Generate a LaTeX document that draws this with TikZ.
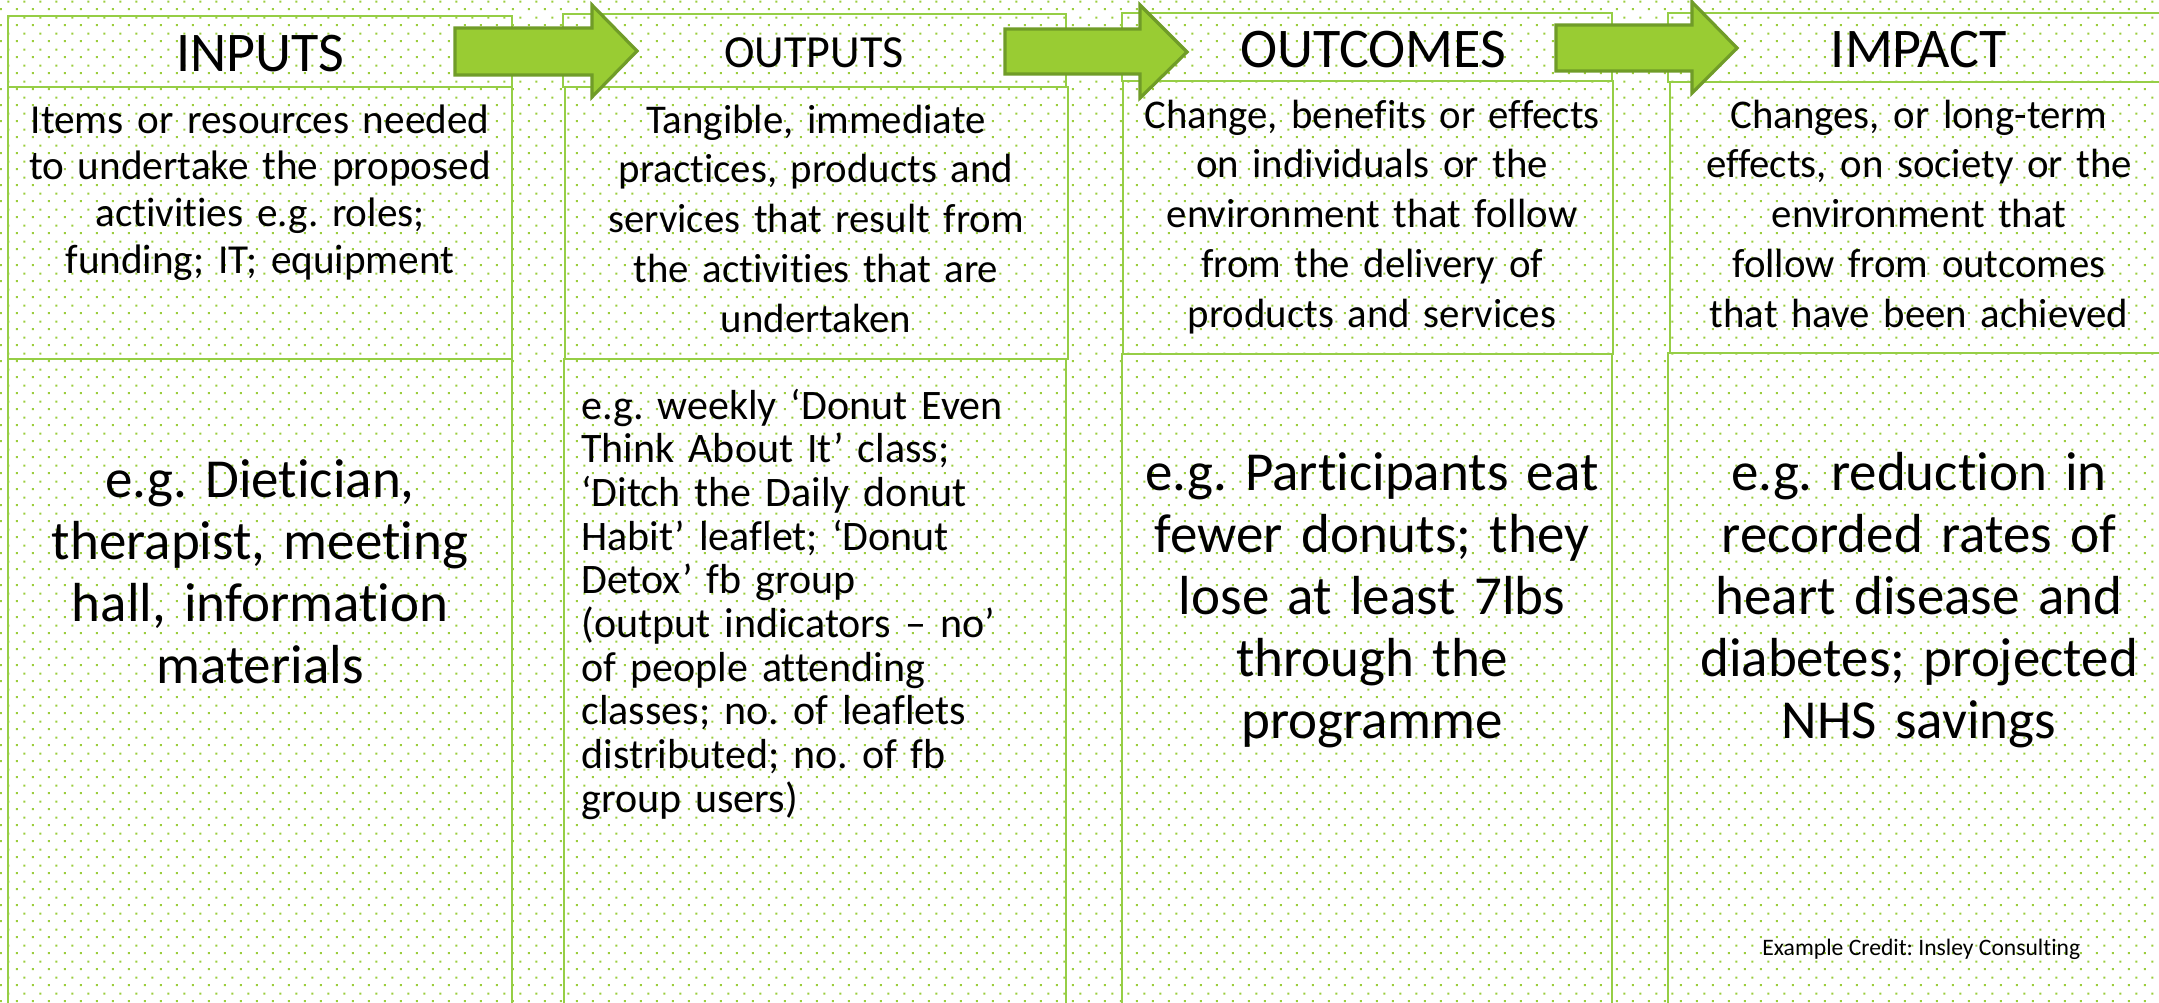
\documentclass[tikz,border=0pt]{standalone}
\usepackage{fontspec}
\setmainfont{Carlito}[Ligatures=NoCommon]
\usetikzlibrary{patterns}

\definecolor{gridgreen}{RGB}{155,205,60}
\definecolor{linegreen}{RGB}{150,206,70}
\definecolor{arrowfill}{RGB}{153,204,51}
\definecolor{arrowedge}{RGB}{112,156,40}

% staggered dot grid: 16px tile, dots at (0,0) and (8,8)
\pgfdeclarepatternformonly{greendots}{\pgfqpoint{0pt}{0pt}}{\pgfqpoint{8pt}{8pt}}{\pgfqpoint{8pt}{8pt}}{%
  \pgfpathrectangle{\pgfqpoint{0.5pt}{0.5pt}}{\pgfqpoint{1pt}{1pt}}%
  \pgfpathrectangle{\pgfqpoint{4.5pt}{4.5pt}}{\pgfqpoint{1pt}{1pt}}%
  \pgfusepath{fill}}

\newcommand{\fs}[2]{\fontsize{#1}{#2}\selectfont}

\tikzset{
  cell/.style={draw=linegreen, line width=1pt},
  blockarrow/.style={fill=arrowfill, draw=arrowedge, line width=1.6pt, line join=miter},
  headtxt/.style={anchor=base, inner sep=0pt, font=\fs{28}{33}},
  desctxt/.style={anchor=base, inner sep=0pt, text width=300pt, align=center, font=\fs{20.4}{24.9}},
  bigtxt/.style={anchor=base, inner sep=0pt, text width=300pt, align=center, font=\fs{27.5}{31}},
  listtxt/.style={anchor=base west, inner sep=0pt, text width=300pt, align=left, font=\fs{21}{21.85}},
}

\begin{document}
\frenchspacing
\begin{tikzpicture}[x=0.5pt, y=-0.5pt]
  \useasboundingbox (0,0) rectangle (2159,1002);
  \fill[white] (0,0) rectangle (2159,1002);
  \fill[pattern=greendots, pattern color=gridgreen] (0,0) rectangle (2159,1002);

  % column frames: header, description, example
  \draw[cell] (8,16) rectangle (512,87);
  \draw[cell] (8,87) rectangle (512,359);
  \draw[cell] (8,359) rectangle (512,1012);

  \draw[cell] (563,14) rectangle (1066,87);
  \draw[cell] (565,87) rectangle (1068,359);
  \draw[cell] (564,359) rectangle (1066,1012);

  \draw[cell] (1122,13) rectangle (1612,81);
  \draw[cell] (1123,81) rectangle (1613,354);
  \draw[cell] (1122,354) rectangle (1612,1012);

  \draw[cell] (1668,13) rectangle (2170,82);
  \draw[cell] (1670,82) rectangle (2170,353);
  \draw[cell] (1668,353) rectangle (2170,1012);

  % block arrows between the headers
  \draw[blockarrow] (455,28) -- (592,28) -- (592,5) -- (637,51) -- (592,97) -- (592,75) -- (455,75) -- cycle;
  \draw[blockarrow] (1005,29) -- (1140,29) -- (1140,5) -- (1187,52) -- (1140,98) -- (1140,74) -- (1005,74) -- cycle;
  \draw[blockarrow] (1556,25) -- (1692,25) -- (1692,2) -- (1737,48) -- (1692,93) -- (1692,71) -- (1556,71) -- cycle;

  % headers
  \node[headtxt] (hin) at (260,71) {INPUTS};
  \node[headtxt, font=\fs{23}{27}] (hout) at (814,67) {OUTPUTS};
  \node[headtxt] (hoc) at (1373,67) {OUTCOMES};
  \node[headtxt] (him) at (1919,67) {IMPACT};

  % descriptions
  \node[desctxt, font=\fs{20.6}{23.4}] (din) at (260,133) {Items or resources needed\\to undertake the proposed\\activities e.g. roles;\\funding; IT; equipment};
  \node[desctxt] (dout) at (816,133) {Tangible, immediate\\practices, products and\\services that result from\\the activities that are\\undertaken};
  \node[desctxt] (doc) at (1372,128) {Change, benefits or effects\\on individuals or the\\environment that follow\\from the delivery of\\products and services};
  \node[desctxt] (dim) at (1919,128) {Changes, or long-term\\effects, on society or the\\environment that\\follow from outcomes\\that have been achieved};

  % examples
  \node[bigtxt] (ein) at (260,497) {e.g. Dietician,\\therapist, meeting\\hall, information\\materials};
  \node[listtxt] (eout) at (581,419) {e.g. weekly ‘Donut Even\\Think About It’ class;\\‘Ditch the Daily donut\\Habit’ leaflet; ‘Donut\\Detox’ fb group\\(output indicators – no’\\of people attending\\classes; no. of leaflets\\distributed; no. of fb\\group users)};
  \node[bigtxt] (eoc) at (1372,490) {e.g. Participants eat\\fewer donuts; they\\lose at least 7lbs\\through the\\programme};
  \node[bigtxt] (eim) at (1919,490) {e.g. reduction in\\recorded rates of\\heart disease and\\diabetes; projected\\NHS savings};

  \node[anchor=base west, inner sep=0pt, font=\fs{11.8}{14}] (credit) at (1762,955) {Example Credit: Insley Consulting};
\end{tikzpicture}
\end{document}
